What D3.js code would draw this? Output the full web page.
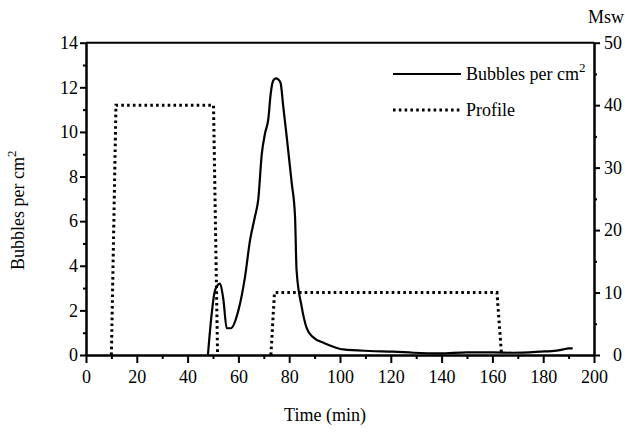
<!DOCTYPE html>
<html>
<head>
<meta charset="utf-8">
<script src="https://cdn.jsdelivr.net/npm/d3@7"></script>
<style>
    body { margin: 0; background: #fff; }
    svg { display: block; }
</style>
</head>
<body>
<div id="chart"></div>
<script>
// Bubble counts (per cm2)
const bubbleTime = [48, 49.5, 50.8, 52.8, 54.1, 55.4, 57, 60, 62.6, 64.6, 66.5, 67.8, 69.2, 70.5,
    71.8, 72.7, 73.7, 74.7, 75.7, 76.6, 77.7, 79, 81, 82.3, 82.9, 84.9, 86.9, 89.2, 94.1, 97.4,
    101.3, 111.8, 121, 128.9, 139.4, 149.9, 160.4, 168.2, 178.7, 185.3, 187.9, 189.9, 191.6];
const bubbleCount = [0, 1.87, 2.9, 3.2, 2.47, 1.2, 1.2, 2.0, 3.5, 5.16, 6.2, 6.95, 9.0, 9.94,
    10.6, 11.7, 12.3, 12.4, 12.36, 12.2, 11.1, 9.8, 7.7, 6.2, 3.8, 2.17, 1.2, 0.82, 0.52, 0.37,
    0.25, 0.18, 0.15, 0.1, 0.07, 0.12, 0.12, 0.1, 0.15, 0.2, 0.25, 0.3, 0.3];

// Dive profile (msw), null splits the two dives
const profileTime = [10, 11.8, 50.2, 51.8, null, 72.8, 74.2, 161.8, 163.6];
const profileDepth = [0, 40, 40, 0, null, 0, 10, 10, 0];

// Tick values
const xTicks = [0, 20, 40, 60, 80, 100, 120, 140, 160, 180, 200];
const xMinor = [10, 30, 50, 70, 90, 110, 130, 150, 170, 190];
const yTicks = [0, 2, 4, 6, 8, 10, 12, 14];
const yMinor = [1, 3, 5, 7, 9, 11, 13];
const y2Ticks = [0, 10, 20, 30, 40, 50];
const y2Minor = [5, 15, 25, 35, 45];

const FONT = '"Liberation Serif", "Times New Roman", Times, serif';
const W = 625, H = 435;
const plotLeft = 86, plotRight = 594, plotTop = 42.7, plotBottom = 355;

const svg = d3.select('#chart').append('svg')
    .attr('width', W).attr('height', H)
    .style('font-family', FONT);

const x = d3.scaleLinear().domain([0, 200]).range([plotLeft, plotRight]);
const y = d3.scaleLinear().domain([0, 14]).range([plotBottom, plotTop]);
const y2 = d3.scaleLinear().domain([0, 50]).range([plotBottom, plotTop]);

function styleAxis(g) {
    g.attr('font-family', null).attr('font-size', null);
    g.selectAll('path.domain').attr('stroke', '#000').attr('stroke-width', 2);
    g.selectAll('.tick line').attr('stroke', '#000').attr('stroke-width', 2);
    g.selectAll('.tick text')
        .style('font-family', FONT).style('font-size', '18px').attr('fill', '#000');
}

function addText(sel) {
    return sel.append('text').style('font-family', FONT).style('font-size', '18px').attr('fill', '#000');
}

// minor ticks first, then the labelled axes on top
svg.append('g').attr('transform', 'translate(0,' + plotBottom + ')')
    .call(d3.axisBottom(x).tickValues(xMinor).tickSize(4).tickSizeOuter(0).tickFormat(''))
    .call(styleAxis);
svg.append('g').attr('transform', 'translate(' + plotLeft + ',0)')
    .call(d3.axisLeft(y).tickValues(yMinor).tickSize(3).tickSizeOuter(0).tickFormat(''))
    .call(styleAxis);
svg.append('g').attr('transform', 'translate(' + plotRight + ',0)')
    .call(d3.axisRight(y2).tickValues(y2Minor).tickSize(3).tickSizeOuter(0).tickFormat(''))
    .call(styleAxis);

svg.append('g').attr('transform', 'translate(0,' + plotBottom + ')')
    .call(d3.axisBottom(x).tickValues(xTicks).tickSize(8).tickPadding(7).tickSizeOuter(0))
    .call(styleAxis);
svg.append('g').attr('transform', 'translate(' + plotLeft + ',0)')
    .call(d3.axisLeft(y).tickValues(yTicks).tickSize(6).tickPadding(2).tickSizeOuter(0))
    .call(styleAxis);
const rAxis = svg.append('g').attr('transform', 'translate(' + plotRight + ',0)')
    .call(d3.axisRight(y2).tickValues(y2Ticks).tickSize(6).tickSizeOuter(0))
    .call(styleAxis);
rAxis.selectAll('.tick text').attr('text-anchor', 'end').attr('x', 28);

// top frame line
svg.append('line')
    .attr('x1', plotLeft).attr('x2', plotRight).attr('y1', plotTop).attr('y2', plotTop)
    .attr('stroke', '#000').attr('stroke-width', 2);

// profile (dotted)
const profile = profileTime.map(function (t, i) { return { t: t, d: profileDepth[i] }; });
const profileLine = d3.line()
    .defined(function (d) { return d.t !== null; })
    .x(function (d) { return x(d.t); })
    .y(function (d) { return y2(d.d); });
svg.append('path')
    .attr('d', profileLine(profile))
    .attr('fill', 'none').attr('stroke', '#000')
    .attr('stroke-width', 3).attr('stroke-dasharray', '2.6,3.2');

// bubbles (solid)
const bubbles = bubbleTime.map(function (t, i) { return { t: t, v: bubbleCount[i] }; });
const bubbleLine = d3.line()
    .curve(d3.curveMonotoneX)
    .x(function (d) { return x(d.t); })
    .y(function (d) { return y(d.v); });
svg.append('path')
    .attr('d', bubbleLine(bubbles))
    .attr('fill', 'none').attr('stroke', '#000')
    .attr('stroke-width', 2.2).attr('stroke-linejoin', 'round');

// legend
const legend = svg.append('g');
legend.append('line').attr('x1', 393).attr('x2', 461).attr('y1', 74).attr('y2', 74)
    .attr('stroke', '#000').attr('stroke-width', 2.2);
const lt1 = addText(legend).attr('x', 466).attr('y', 80);
lt1.append('tspan').text('Bubbles per cm');
lt1.append('tspan').attr('dy', -8).style('font-size', '13px').text('2');
legend.append('line').attr('x1', 393).attr('x2', 460).attr('y1', 110).attr('y2', 110)
    .attr('stroke', '#000').attr('stroke-width', 3).attr('stroke-dasharray', '2.6,3.2');
addText(legend).attr('x', 466).attr('y', 116).text('Profile');

// axis titles
addText(svg).attr('x', 325).attr('y', 421).attr('text-anchor', 'middle').text('Time (min)');
const yt = addText(svg).attr('transform', 'translate(24,270) rotate(-90)');
yt.append('tspan').text('Bubbles per cm');
yt.append('tspan').attr('dy', -8).style('font-size', '13px').text('2');
addText(svg).attr('x', 588).attr('y', 23).text('Msw');
</script>
</body>
</html>
